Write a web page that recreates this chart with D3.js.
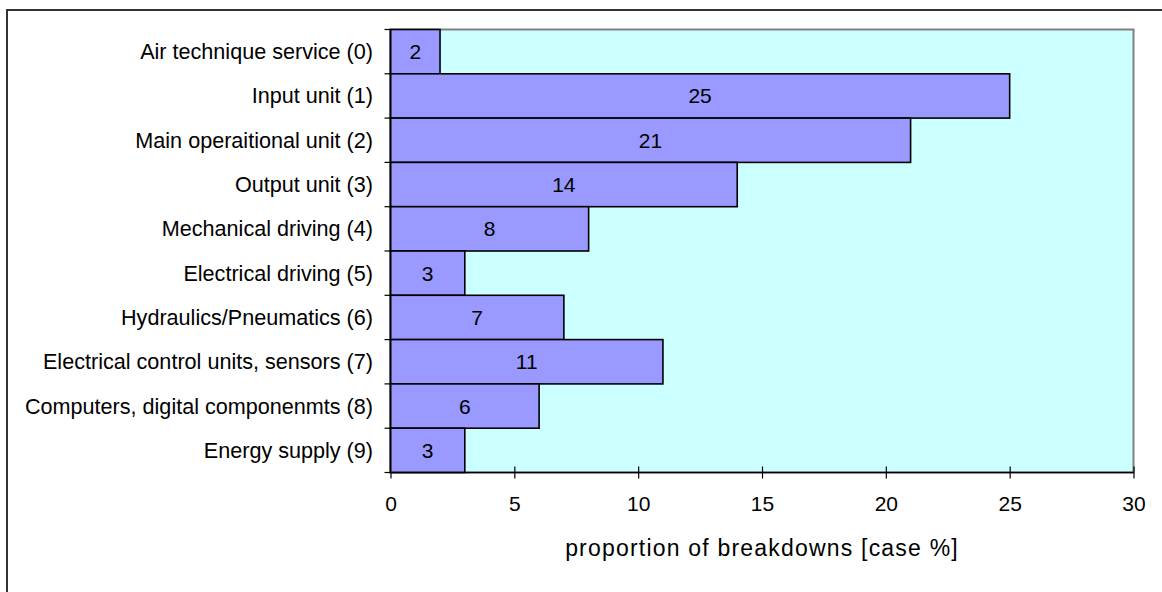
<!DOCTYPE html>
<html><head><meta charset="utf-8">
<script src="https://d3js.org/d3.v7.min.js"></script>
<style>body{margin:0;background:#fff}svg{display:block}text{font-family:"Liberation Sans",Arial,sans-serif;fill:#000}</style>
</head><body>
<script>
const categories = ["Air technique service (0)","Input unit (1)","Main operaitional unit (2)","Output unit (3)","Mechanical driving (4)","Electrical driving (5)","Hydraulics/Pneumatics (6)","Electrical control units, sensors (7)","Computers, digital componenmts (8)","Energy supply (9)"];
const values = [2,25,21,14,8,3,7,11,6,3];
const xTicks = [0,5,10,15,20,25,30];
const xTitle = "proportion of breakdowns [case %]";

const W=1162,H=592;
const svg=d3.select("body").append("svg").attr("width",W).attr("height",H);
svg.append("rect").attr("x",7).attr("y",10).attr("width",1200).attr("height",700).attr("fill","#fff").attr("stroke","#333").attr("stroke-width",2);

const L=390.5,R=1133.5,T=29.5,B=472.5;
const x=d3.scaleLinear().domain([0,30]).range([L,R]);
const y=d3.scaleBand().domain(categories).range([T,B]).padding(0);

svg.append("rect").attr("x",L).attr("y",T).attr("width",R-L).attr("height",B-T).attr("fill","#CCFFFF").attr("stroke","#808080").attr("stroke-width",2);

// x axis
const xa=svg.append("g").attr("transform",`translate(0,${B})`).call(d3.axisBottom(x).tickValues(xTicks).tickSize(0).tickPadding(0));
xa.select(".domain").remove();
xa.selectAll(".tick text").remove();
xa.selectAll(".tick").append("line").attr("y1",-6).attr("y2",6).attr("stroke","#000").attr("stroke-width",1.2);
xa.selectAll(".tick").append("text").text(d=>d).attr("y",38.5).attr("text-anchor","middle").attr("font-size","21px");

// bars
svg.append("g").selectAll("rect").data(values).join("rect")
 .attr("x",x(0)).attr("y",(d,i)=>y(categories[i]))
 .attr("width",d=>x(d)-x(0)).attr("height",y.bandwidth())
 .attr("fill","#9999FF").attr("stroke","#000").attr("stroke-width",1.6);

svg.append("g").selectAll("text").data(values).join("text")
 .attr("x",d=>(x(0)+x(d))/2).attr("y",(d,i)=>y(categories[i])+y.bandwidth()/2+7.5)
 .attr("text-anchor","middle").attr("font-size","21px").text(d=>d);

// axis lines
svg.append("line").attr("x1",L).attr("x2",R).attr("y1",B).attr("y2",B).attr("stroke","#000").attr("stroke-width",1.6);
svg.append("line").attr("x1",L).attr("x2",L).attr("y1",T).attr("y2",B).attr("stroke","#000").attr("stroke-width",1.6);

// y ticks at band boundaries
const bounds=categories.map(c=>y(c)).concat([B]);
svg.append("g").selectAll("line").data(bounds).join("line")
 .attr("x1",L-6).attr("x2",L).attr("y1",d=>d).attr("y2",d=>d).attr("stroke","#000").attr("stroke-width",1.2);

// y labels
svg.append("g").selectAll("text").data(categories).join("text")
 .attr("x",373).attr("y",d=>y(d)+y.bandwidth()/2+7.5)
 .attr("text-anchor","end").attr("font-size","21.6px").text(d=>d);

svg.append("text").attr("x",(L+R)/2).attr("y",556).attr("text-anchor","middle").attr("font-size","23px").attr("letter-spacing","1.2px").text(xTitle);
</script>
</body></html>
